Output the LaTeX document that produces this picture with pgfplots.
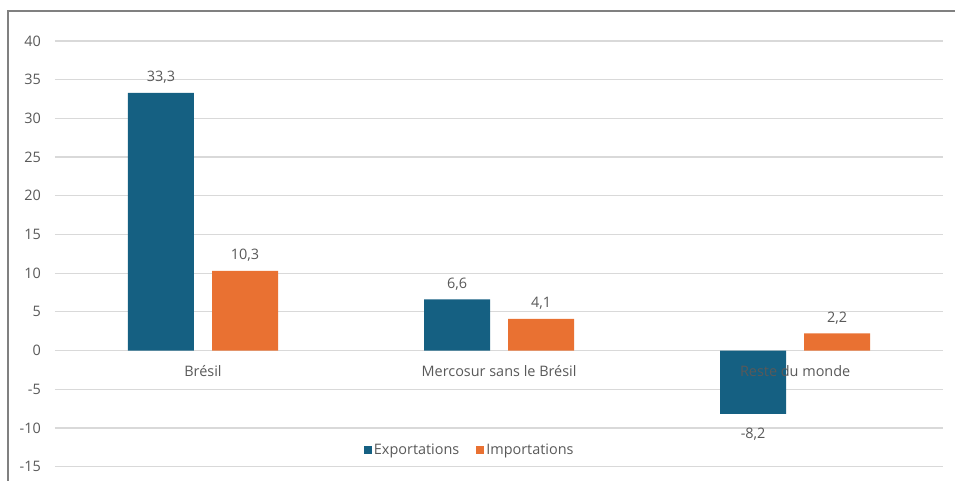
\documentclass[border=0pt]{standalone}
\usepackage{fontspec}
\setmainfont{Open Sans}
\usepackage{pgfplots}
\pgfplotsset{compat=1.18}
\definecolor{expo}{HTML}{156082}
\definecolor{impo}{HTML}{E97132}
\definecolor{txt}{HTML}{595959}
\definecolor{grille}{HTML}{D9D9D9}
\newcommand{\taille}{\fontsize{14.5}{17}\selectfont}
\pgfplotsset{
  cadre/.style={
    at={(55bp,14bp)}, anchor=south west,
    scale only axis, width=889bp, height=426bp,
    xmin=-0.5, xmax=2.5, ymin=-15, ymax=40,
    axis line style={draw=none},
    major tick length=0pt,
    font=\taille,
    /pgf/number format/assume math mode=true,
    ticklabel style={text=txt},
  },
}
\begin{document}
\begin{tikzpicture}
\path (0,0) rectangle (956bp,481bp);
\draw[color=black!50, line width=1.6bp] (8bp,0) -- (8bp,470bp) -- (956bp,470bp);
% barres, grille et valeurs
\begin{axis}[
    cadre,
    ytick distance=5,
    xtick=\empty,
    ymajorgrids,
    grid style={grille, line width=1.2bp},
    yticklabel style={anchor=east, inner sep=0pt, xshift=-14bp},
    ybar, bar width=0.223,
    visualization depends on={y \as \rawy},
    nodes near coords={\pgfmathprintnumber[fixed,fixed zerofill,precision=1,use comma,assume math mode=true]{\pgfplotspointmeta}},
    nodes near coords style={text=txt, font=\taille, yshift={(\rawy<0)*(-17)+6}},
    legend style={at={(0.467,0.038)}, anchor=center, draw=none, fill=none,
      legend columns=2, text=txt, font=\taille,
      nodes={inner sep=2bp},
      /tikz/every even column/.append style={column sep=15bp}},
]
\addplot[fill=expo, draw=none, bar shift=-0.142,
  legend image code/.code={\fill[expo] (0bp,-4bp) rectangle (8bp,4bp);}]
  coordinates {(0,33.3) (1,6.6) (2,-8.2)};
\addplot[fill=impo, draw=none, bar shift=0.142,
  legend image code/.code={\fill[impo] (0bp,-4bp) rectangle (8bp,4bp);}]
  coordinates {(0,10.3) (1,4.1) (2,2.2)};
\legend{Exportations, Importations}
\end{axis}
% noms des catégories, par-dessus les barres
\begin{axis}[
    cadre,
    ytick=\empty,
    xtick={0,1,2},
    xticklabels={Brésil, Mercosur sans le Brésil, Reste du monde},
    xticklabel style={anchor=center, inner sep=0pt, yshift=96bp},
]
\end{axis}
\end{tikzpicture}
\end{document}
